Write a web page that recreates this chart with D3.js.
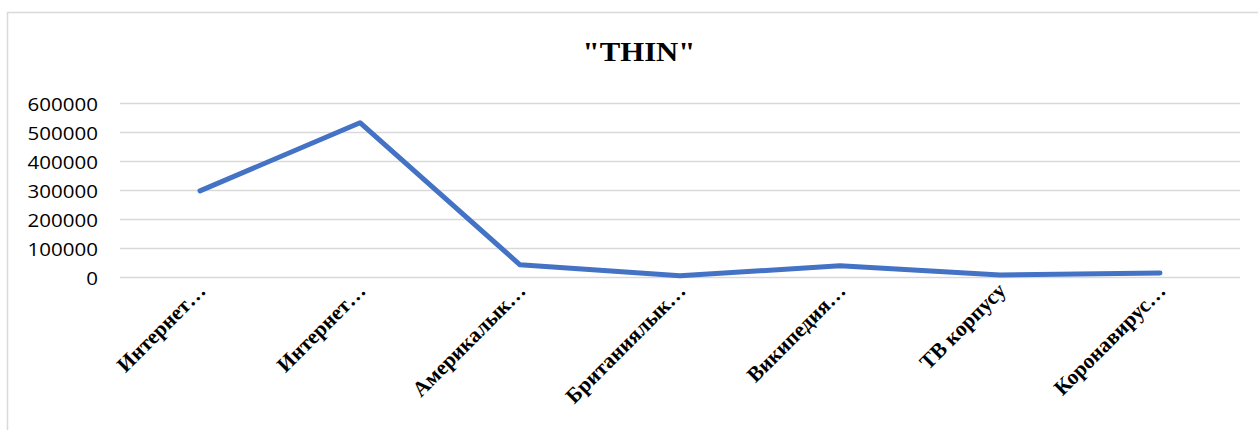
<!DOCTYPE html>
<html>
<head>
<meta charset="utf-8">
<script src="https://cdn.jsdelivr.net/npm/d3@7"></script>
<style>
  html, body { margin: 0; padding: 0; background: #fff; }
  svg { display: block; }
</style>
</head>
<body>
<svg id="chart" width="1258" height="430"></svg>
<script>
const title = '"THIN"';
const categories = ["Интернет…", "Интернет…", "Америкалык…", "Британиялык…", "Википедия…", "ТВ корпусу", "Коронавирус…"];
const values = [297000, 532000, 42000, 4000, 39000, 7000, 14000];
const yTicks = [0, 100000, 200000, 300000, 400000, 500000, 600000];

const W = 1258, H = 430;
const stretch = 1.14;
const svg = d3.select("#chart");

// chart border
svg.append("path")
  .attr("d", `M${W},12.5 H7.5 V${H}`)
  .attr("fill", "none").attr("stroke", "#d9d9d9").attr("stroke-width", 1.5);

const plot = { left: 120, right: 1240, top: 103, bottom: 277 };

const x = d3.scaleBand().domain(d3.range(categories.length))
  .range([plot.left, plot.right]);
const y = d3.scaleLinear().domain([0, 600000]).range([plot.bottom, plot.top]);

// title
svg.append("text")
  .attr("transform", `translate(639,61) scale(${stretch},1)`)
  .attr("text-anchor", "middle")
  .attr("font-family", "Liberation Serif")
  .attr("font-weight", "bold")
  .attr("font-size", 27)
  .attr("fill", "#000")
  .text(title);

// gridlines
svg.append("g").selectAll("line").data(yTicks).join("line")
  .attr("x1", plot.left).attr("x2", plot.right)
  .attr("y1", d => Math.round(y(d)) + 0.5).attr("y2", d => Math.round(y(d)) + 0.5)
  .attr("stroke", "#d9d9d9").attr("stroke-width", 1.5);

// y axis labels
const yAxis = d3.axisLeft(y).tickValues(yTicks).tickSize(0).tickPadding(0)
  .tickFormat(d3.format("d"));
const gy = svg.append("g").attr("transform", `translate(98,0)`).call(yAxis);
gy.select(".domain").remove();
gy.selectAll("text")
  .attr("font-family", "Open Sans")
  .attr("font-size", 18)
  .attr("fill", "#000")
  .attr("x", 0).attr("dy", null)
  .attr("dominant-baseline", "central")
  .attr("transform", `scale(${stretch},1)`);
gy.selectAll(".tick").attr("transform", d => `translate(0,${y(d) + 1})`);

// x axis labels
const xAxis = d3.axisBottom(x).tickFormat(i => categories[i]).tickSize(0).tickPadding(0);
const gx = svg.append("g").attr("transform", `translate(0,${plot.bottom})`).call(xAxis);
gx.select(".domain").remove();
gx.selectAll("text")
  .attr("font-family", "Liberation Serif")
  .attr("font-weight", "bold")
  .attr("font-size", 21.5)
  .attr("fill", "#000")
  .attr("text-anchor", "end")
  .attr("y", null).attr("dy", null)
  .attr("transform", `translate(7,15) rotate(-45)`);

// line
const line = d3.line()
  .x((d, i) => x(i) + x.bandwidth() / 2)
  .y(d => y(d));
svg.append("path")
  .datum(values)
  .attr("d", line)
  .attr("fill", "none")
  .attr("stroke", "#4472C4")
  .attr("stroke-width", 5)
  .attr("stroke-linejoin", "round")
  .attr("stroke-linecap", "round");
</script>
</body>
</html>
